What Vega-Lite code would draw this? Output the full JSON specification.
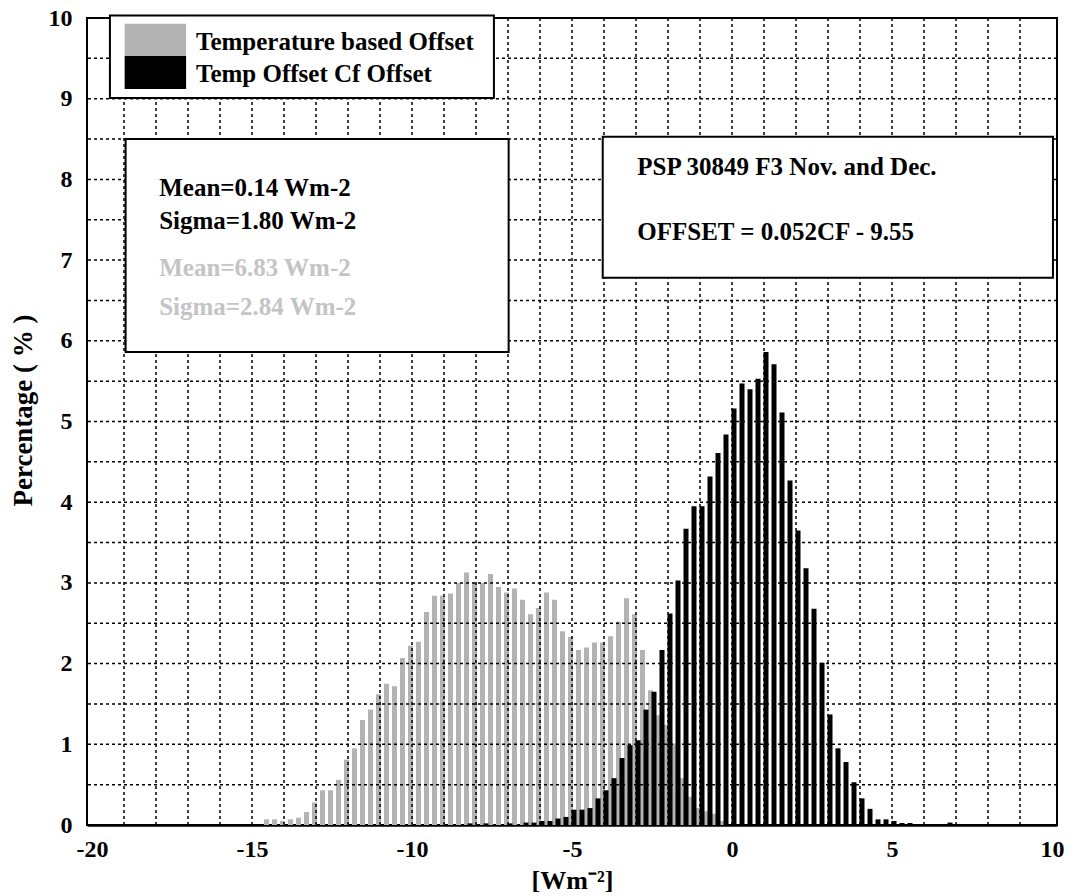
{
  "$schema": "https://vega.github.io/schema/vega-lite/v6.json",
  "width": 970,
  "height": 807,
  "autosize": {"type": "none"},
  "padding": {"left": 87, "top": 18, "right": 17, "bottom": 71},
  "background": "white",
  "config": {
    "view": {"stroke": "black", "strokeWidth": 2},
    "font": "Liberation Serif",
    "axis": {"labelFont": "Liberation Serif", "titleFont": "Liberation Serif", "labelColor": "black", "titleColor": "black"}
  },
  "datasets": {
    "gray": [
      {"x": -14.5, "pct": 0.07}, {"x": -14.25, "pct": 0.07}, {"x": -14.0, "pct": 0.05}, {"x": -13.75, "pct": 0.07},
      {"x": -13.5, "pct": 0.09}, {"x": -13.25, "pct": 0.16}, {"x": -13.0, "pct": 0.28}, {"x": -12.75, "pct": 0.43},
      {"x": -12.5, "pct": 0.43}, {"x": -12.25, "pct": 0.56}, {"x": -12.0, "pct": 0.81}, {"x": -11.75, "pct": 0.95},
      {"x": -11.5, "pct": 1.30}, {"x": -11.25, "pct": 1.43}, {"x": -11.0, "pct": 1.62}, {"x": -10.75, "pct": 1.75},
      {"x": -10.5, "pct": 1.72}, {"x": -10.25, "pct": 2.07}, {"x": -10.0, "pct": 2.22}, {"x": -9.75, "pct": 2.27},
      {"x": -9.5, "pct": 2.64}, {"x": -9.25, "pct": 2.84}, {"x": -9.0, "pct": 2.84}, {"x": -8.75, "pct": 2.87},
      {"x": -8.5, "pct": 3.00}, {"x": -8.25, "pct": 3.13}, {"x": -8.0, "pct": 3.00}, {"x": -7.75, "pct": 3.00},
      {"x": -7.5, "pct": 3.11}, {"x": -7.25, "pct": 2.95}, {"x": -7.0, "pct": 2.88}, {"x": -6.75, "pct": 2.93},
      {"x": -6.5, "pct": 2.79}, {"x": -6.25, "pct": 2.61}, {"x": -6.0, "pct": 2.69}, {"x": -5.75, "pct": 2.88},
      {"x": -5.5, "pct": 2.79}, {"x": -5.25, "pct": 2.40}, {"x": -5.0, "pct": 2.33}, {"x": -4.75, "pct": 2.17},
      {"x": -4.5, "pct": 2.20}, {"x": -4.25, "pct": 2.26}, {"x": -4.0, "pct": 2.26}, {"x": -3.75, "pct": 2.34},
      {"x": -3.5, "pct": 2.52}, {"x": -3.25, "pct": 2.81}, {"x": -3.0, "pct": 2.61}, {"x": -2.75, "pct": 2.17},
      {"x": -2.5, "pct": 1.67}, {"x": -2.25, "pct": 1.36}, {"x": -2.0, "pct": 1.24}, {"x": -1.75, "pct": 1.01},
      {"x": -1.5, "pct": 0.58}, {"x": -1.25, "pct": 0.35}, {"x": -1.0, "pct": 0.21}, {"x": -0.75, "pct": 0.17},
      {"x": -0.5, "pct": 0.14}, {"x": -0.25, "pct": 0.05}
    ],
    "black": [
      {"x": -8.25, "pct": 0.02}, {"x": -7.75, "pct": 0.02}, {"x": -7.0, "pct": 0.02}, {"x": -6.5, "pct": 0.03},
      {"x": -6.25, "pct": 0.03}, {"x": -6.0, "pct": 0.05}, {"x": -5.75, "pct": 0.05}, {"x": -5.5, "pct": 0.08},
      {"x": -5.25, "pct": 0.10}, {"x": -5.0, "pct": 0.19}, {"x": -4.75, "pct": 0.19}, {"x": -4.5, "pct": 0.21},
      {"x": -4.25, "pct": 0.33}, {"x": -4.0, "pct": 0.43}, {"x": -3.75, "pct": 0.58}, {"x": -3.5, "pct": 0.83},
      {"x": -3.25, "pct": 0.99}, {"x": -3.0, "pct": 1.05}, {"x": -2.75, "pct": 1.43}, {"x": -2.5, "pct": 1.65},
      {"x": -2.25, "pct": 2.17}, {"x": -2.0, "pct": 2.62}, {"x": -1.75, "pct": 3.03}, {"x": -1.5, "pct": 3.67},
      {"x": -1.25, "pct": 3.95}, {"x": -1.0, "pct": 3.95}, {"x": -0.75, "pct": 4.32}, {"x": -0.5, "pct": 4.61},
      {"x": -0.25, "pct": 4.84}, {"x": 0.0, "pct": 5.16}, {"x": 0.25, "pct": 5.47}, {"x": 0.5, "pct": 5.40},
      {"x": 0.75, "pct": 5.53}, {"x": 1.0, "pct": 5.86}, {"x": 1.25, "pct": 5.71}, {"x": 1.5, "pct": 5.11},
      {"x": 1.75, "pct": 4.27}, {"x": 2.0, "pct": 3.65}, {"x": 2.25, "pct": 3.18}, {"x": 2.5, "pct": 2.68},
      {"x": 2.75, "pct": 2.01}, {"x": 3.0, "pct": 1.37}, {"x": 3.25, "pct": 0.95}, {"x": 3.5, "pct": 0.78},
      {"x": 3.75, "pct": 0.53}, {"x": 4.0, "pct": 0.33}, {"x": 4.25, "pct": 0.20}, {"x": 4.5, "pct": 0.07},
      {"x": 4.75, "pct": 0.07}, {"x": 5.0, "pct": 0.05}, {"x": 5.25, "pct": 0.025}, {"x": 5.5, "pct": 0.025},
      {"x": 6.75, "pct": 0.03}
    ],
    "vgrid": [
      {"g": -19}, {"g": -18}, {"g": -17}, {"g": -16}, {"g": -15}, {"g": -14}, {"g": -13}, {"g": -12}, {"g": -11}, {"g": -10},
      {"g": -9}, {"g": -8}, {"g": -7}, {"g": -6}, {"g": -5}, {"g": -4}, {"g": -3}, {"g": -2}, {"g": -1}, {"g": 0},
      {"g": 1}, {"g": 2}, {"g": 3}, {"g": 4}, {"g": 5}, {"g": 6}, {"g": 7}, {"g": 8}, {"g": 9}
    ],
    "hgrid": [
      {"g": 0.5}, {"g": 1}, {"g": 1.5}, {"g": 2}, {"g": 2.5}, {"g": 3}, {"g": 3.5}, {"g": 4}, {"g": 4.5}, {"g": 5},
      {"g": 5.5}, {"g": 6}, {"g": 6.5}, {"g": 7}, {"g": 7.5}, {"g": 8}, {"g": 8.5}, {"g": 9}, {"g": 9.5}
    ]
  },
  "layer": [
    {
      "data": {"name": "gray"},
      "mark": {"type": "bar", "color": "#b3b3b3", "size": 5, "xOffset": -1.5},
      "encoding": {
        "x": {
          "field": "x", "type": "quantitative",
          "scale": {"domain": [-20, 10], "nice": false, "zero": false},
          "axis": {
            "title": "[Wm⁻²]", "values": [-20, -15, -10, -5, 0, 5, 10],
            "labelExpr": "'' + datum.value",
            "grid": false, "ticks": false, "domain": true, "domainColor": "black", "domainWidth": 2.5,
            "labelFontSize": 24, "labelFontWeight": "bold", "labelPadding": 12, "labelFlush": false,
            "titleFontSize": 26, "titleFontWeight": "bold", "titleX": 485, "titleY": 63,
            "titleBaseline": "alphabetic", "titleAlign": "center"
          }
        },
        "y": {
          "field": "pct", "type": "quantitative",
          "scale": {"domain": [0, 10], "nice": false},
          "axis": {
            "title": "Percentage ( % )", "values": [0, 1, 2, 3, 4, 5, 6, 7, 8, 9, 10],
            "labelExpr": "'' + datum.value",
            "grid": false, "ticks": false, "domain": false,
            "labelFontSize": 24, "labelFontWeight": "bold", "labelPadding": 15,
            "titleFontSize": 27, "titleFontWeight": "bold", "titleAngle": -90,
            "titleX": -56, "titleY": 392, "titleBaseline": "alphabetic", "titleAlign": "center"
          }
        }
      }
    },
    {
      "data": {"name": "black"},
      "mark": {"type": "bar", "color": "black", "size": 5, "xOffset": 2},
      "encoding": {
        "x": {"field": "x", "type": "quantitative"},
        "y": {"field": "pct", "type": "quantitative"}
      }
    },
    {
      "data": {"name": "vgrid"},
      "mark": {"type": "rule", "color": "black", "strokeWidth": 1.5, "strokeDash": [3, 3]},
      "encoding": {"x": {"field": "g", "type": "quantitative"}}
    },
    {
      "data": {"name": "hgrid"},
      "mark": {"type": "rule", "color": "black", "strokeWidth": 1.5, "strokeDash": [3, 3]},
      "encoding": {"y": {"field": "g", "type": "quantitative"}}
    },
    {
      "data": {"values": [{}]},
      "mark": {"type": "rect", "fill": "white", "stroke": "black", "strokeWidth": 2},
      "encoding": {"x": {"datum": -19.44}, "x2": {"datum": -7.44}, "y": {"datum": 10.03}, "y2": {"datum": 9.01}}
    },
    {
      "data": {"values": [{}]},
      "mark": {"type": "rect", "fill": "#b3b3b3"},
      "encoding": {"x": {"datum": -18.98}, "x2": {"datum": -17.06}, "y": {"datum": 9.93}, "y2": {"datum": 9.53}}
    },
    {
      "data": {"values": [{}]},
      "mark": {"type": "rect", "fill": "black"},
      "encoding": {"x": {"datum": -18.98}, "x2": {"datum": -17.06}, "y": {"datum": 9.53}, "y2": {"datum": 9.12}}
    },
    {
      "data": {"values": [{"label": "Temperature based Offset"}]},
      "mark": {"type": "text", "font": "Liberation Serif", "fontWeight": "bold", "fontSize": 25, "align": "left", "baseline": "alphabetic", "color": "black"},
      "encoding": {"x": {"datum": -16.75}, "y": {"datum": 9.60}, "text": {"field": "label"}}
    },
    {
      "data": {"values": [{"label": "Temp Offset  Cf Offset"}]},
      "mark": {"type": "text", "font": "Liberation Serif", "fontWeight": "bold", "fontSize": 25, "align": "left", "baseline": "alphabetic", "color": "black"},
      "encoding": {"x": {"datum": -16.75}, "y": {"datum": 9.21}, "text": {"field": "label"}}
    },
    {
      "data": {"values": [{}]},
      "mark": {"type": "rect", "fill": "white", "stroke": "black", "strokeWidth": 2},
      "encoding": {"x": {"datum": -18.95}, "x2": {"datum": -6.98}, "y": {"datum": 8.50}, "y2": {"datum": 5.86}}
    },
    {
      "data": {"values": [{"label": "Mean=0.14 Wm-2"}]},
      "mark": {"type": "text", "font": "Liberation Serif", "fontWeight": "bold", "fontSize": 25, "align": "left", "baseline": "alphabetic", "color": "black"},
      "encoding": {"x": {"datum": -17.9}, "y": {"datum": 7.80}, "text": {"field": "label"}}
    },
    {
      "data": {"values": [{"label": "Sigma=1.80 Wm-2"}]},
      "mark": {"type": "text", "font": "Liberation Serif", "fontWeight": "bold", "fontSize": 25, "align": "left", "baseline": "alphabetic", "color": "black"},
      "encoding": {"x": {"datum": -17.9}, "y": {"datum": 7.39}, "text": {"field": "label"}}
    },
    {
      "data": {"values": [{"label": "Mean=6.83 Wm-2"}]},
      "mark": {"type": "text", "font": "Liberation Serif", "fontWeight": "bold", "fontSize": 25, "align": "left", "baseline": "alphabetic", "color": "#c4c4c4"},
      "encoding": {"x": {"datum": -17.9}, "y": {"datum": 6.80}, "text": {"field": "label"}}
    },
    {
      "data": {"values": [{"label": "Sigma=2.84 Wm-2"}]},
      "mark": {"type": "text", "font": "Liberation Serif", "fontWeight": "bold", "fontSize": 25, "align": "left", "baseline": "alphabetic", "color": "#c4c4c4"},
      "encoding": {"x": {"datum": -17.9}, "y": {"datum": 6.32}, "text": {"field": "label"}}
    },
    {
      "data": {"values": [{}]},
      "mark": {"type": "rect", "fill": "white", "stroke": "black", "strokeWidth": 2},
      "encoding": {"x": {"datum": -4.04}, "x2": {"datum": 10.03}, "y": {"datum": 8.53}, "y2": {"datum": 6.78}}
    },
    {
      "data": {"values": [{"label": "PSP 30849 F3 Nov. and Dec."}]},
      "mark": {"type": "text", "font": "Liberation Serif", "fontWeight": "bold", "fontSize": 25, "align": "left", "baseline": "alphabetic", "color": "black"},
      "encoding": {"x": {"datum": -2.96}, "y": {"datum": 8.05}, "text": {"field": "label"}}
    },
    {
      "data": {"values": [{"label": "OFFSET = 0.052CF - 9.55"}]},
      "mark": {"type": "text", "font": "Liberation Serif", "fontWeight": "bold", "fontSize": 25, "align": "left", "baseline": "alphabetic", "color": "black"},
      "encoding": {"x": {"datum": -2.96}, "y": {"datum": 7.25}, "text": {"field": "label"}}
    }
  ]
}
